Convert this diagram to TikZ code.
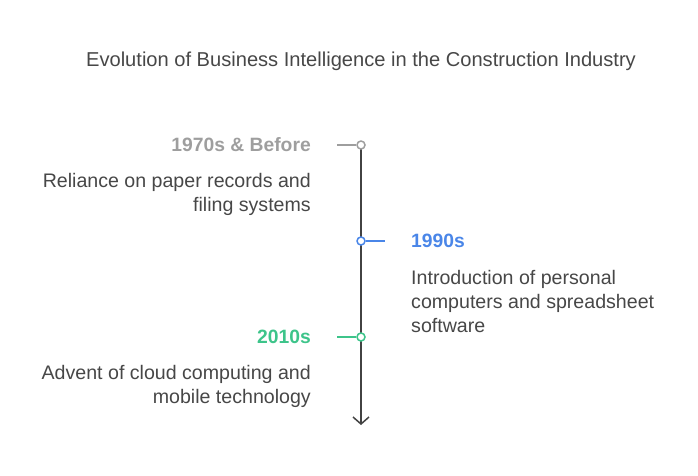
\documentclass[tikz,border=0pt]{standalone}
\usepackage{fontspec}
\setmainfont{Liberation Sans}
\usetikzlibrary{arrows.meta}
\definecolor{gtxt}{HTML}{9E9E9E}
\definecolor{btxt}{HTML}{4A86E8}
\definecolor{ctxt}{HTML}{3DC48A}
\definecolor{body}{HTML}{474747}
\definecolor{axis}{HTML}{424242}
\tikzset{
  dot/.style={circle,draw=#1,fill=white,line width=1.5pt,inner sep=0pt,minimum size=8pt},
  stub/.style={draw=#1,line width=1.5pt},
  head/.style={font=\fontsize{19.3}{21}\selectfont\bfseries,text=#1,inner sep=0pt},
  desc/.style={font=\fontsize{19.6}{24}\selectfont,text=body,inner sep=0pt},
}
\begin{document}
\begin{tikzpicture}[x=1pt,y=-1pt]
\useasboundingbox (0,0) rectangle (698,475);
\node[font=\fontsize{20.1}{21}\selectfont,text=body,inner sep=0pt] (title) at (361,61) {Evolution of Business Intelligence in the Construction Industry};
\coordinate (top) at (361,145);
\coordinate (bot) at (361,425);
\draw[axis,line width=1.5pt,-{Straight Barb[length=7pt,width=16pt,line width=1.5pt]}] (top) -- (bot);
\node[dot=gtxt] (c1) at (361,145) {};
\node[dot=btxt] (c2) at (361,241) {};
\node[dot=ctxt] (c3) at (361,337) {};
\coordinate (s1) at (337,145);
\coordinate (s2) at (385,241);
\coordinate (s3) at (337,337);
\draw[stub=gtxt] (c1.west) -- (s1);
\draw[stub=btxt] (c2.east) -- (s2);
\draw[stub=ctxt] (c3.west) -- (s3);
\node[head=gtxt,anchor=east] (h1) at (311,145) {1970s \& Before};
\node[head=btxt,anchor=west] (h2) at (411,241) {1990s};
\node[head=ctxt,anchor=east] (h3) at (311,337) {2010s};
\node[desc,anchor=east,align=right] (d1) at (311,194) {Reliance on paper records and\\filing systems};
\node[desc,anchor=west,align=left] (d2) at (411,301) {Introduction of personal\\computers and spreadsheet\\software};
\node[desc,anchor=east,align=right] (d3) at (311,386) {Advent of cloud computing and\\mobile technology};
\end{tikzpicture}
\end{document}
